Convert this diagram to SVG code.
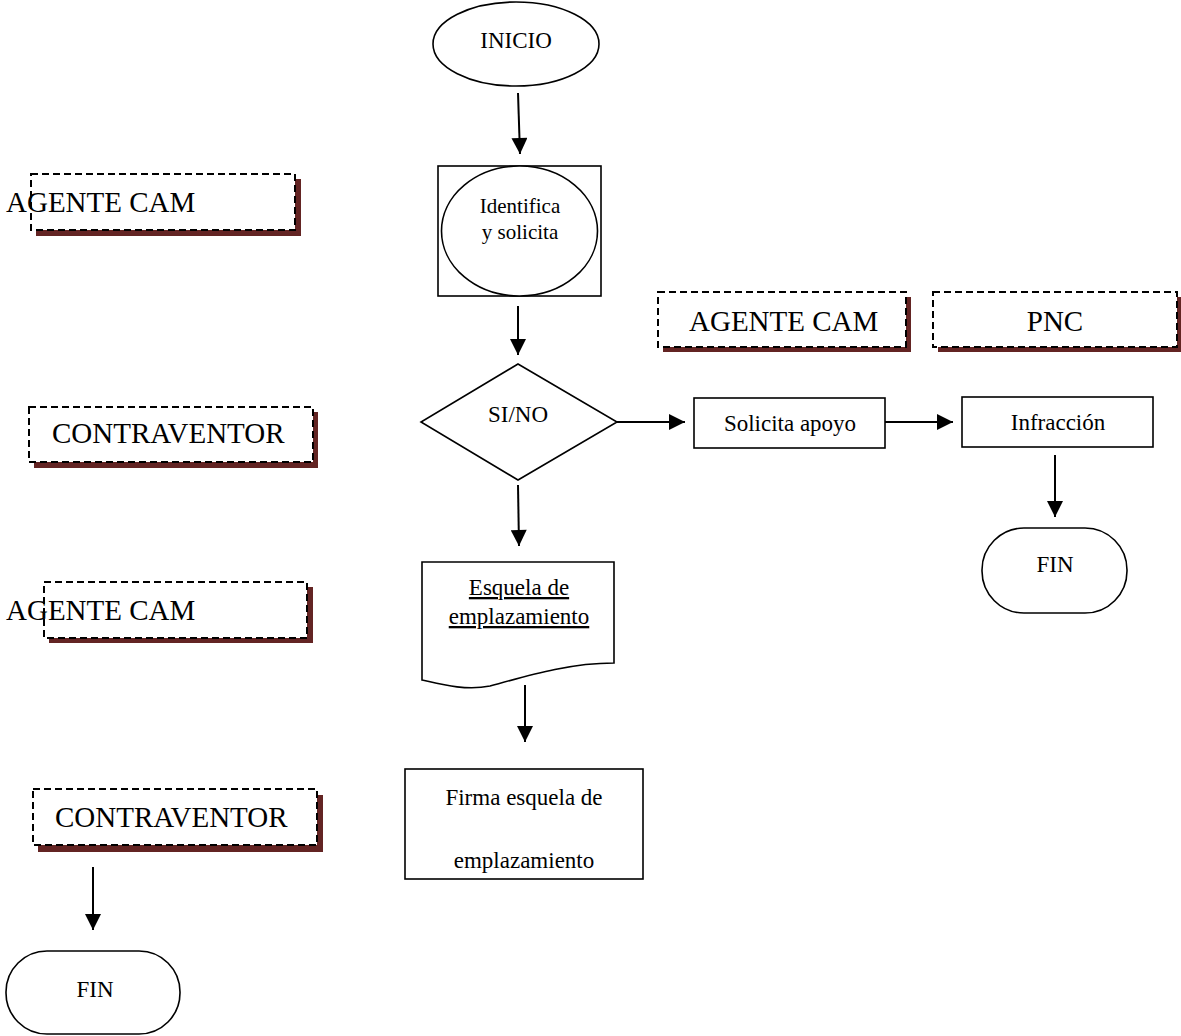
<svg xmlns="http://www.w3.org/2000/svg" width="1181" height="1036" viewBox="0 0 1181 1036">
<style>
  .shape{fill:#fff;stroke:#000;stroke-width:1.6}
  .lane{fill:#fff;stroke:#000;stroke-width:2;stroke-dasharray:7 4}
  .shadow{fill:#632423;stroke:none}
  .t{font-family:"Liberation Serif","Times New Roman",serif;fill:#000}
  .big{font-size:29px}
  .n{font-size:23px;text-anchor:middle}
  .conn{stroke:#000;stroke-width:2;fill:none;marker-end:url(#ah)}
</style>
<defs>
  <marker id="ah" viewBox="0 0 10 10" refX="10" refY="5" markerWidth="17" markerHeight="16" markerUnits="userSpaceOnUse" orient="auto">
    <path d="M0,0 L10,5 L0,10 Z" fill="#000"/>
  </marker>
</defs>
<rect width="1181" height="1036" fill="#fff"/>

<g id="lane-agente1">
  <rect class="shadow" x="36" y="179" width="265" height="57"/>
  <rect class="lane" x="31" y="174" width="264" height="56"/>
  <text class="t big" x="6" y="212">AGENTE CAM</text>
</g>
<g id="lane-contraventor1">
  <rect class="shadow" x="34" y="412" width="284" height="56"/>
  <rect class="lane" x="29" y="407" width="284" height="55"/>
  <text class="t big" x="52" y="443">CONTRAVENTOR</text>
</g>
<g id="lane-agente2">
  <rect class="shadow" x="49" y="587" width="264" height="56"/>
  <rect class="lane" x="44" y="582" width="263" height="56"/>
  <text class="t big" x="6" y="620">AGENTE CAM</text>
</g>
<g id="lane-contraventor2">
  <rect class="shadow" x="38" y="795" width="285" height="57"/>
  <rect class="lane" x="33" y="789" width="284" height="56"/>
  <text class="t big" x="55" y="827">CONTRAVENTOR</text>
</g>
<g id="lane-agente3">
  <rect class="shadow" x="663" y="297" width="248" height="55"/>
  <rect class="lane" x="658" y="292" width="248" height="55"/>
  <text class="t big" x="689" y="331">AGENTE CAM</text>
</g>
<g id="lane-pnc">
  <rect class="shadow" x="938" y="297" width="244" height="55"/>
  <rect class="lane" x="933" y="292" width="244" height="55"/>
  <text class="t big" x="1055" y="331" text-anchor="middle">PNC</text>
</g>

<g id="inicio">
  <ellipse class="shape" cx="516" cy="44" rx="83" ry="42"/>
  <text class="t n" x="516" y="48">INICIO</text>
</g>
<g id="identifica">
  <rect class="shape" x="438" y="166" width="163" height="130"/>
  <ellipse class="shape" cx="519.5" cy="231" rx="78" ry="65"/>
  <text class="t" x="520" y="213" font-size="21" text-anchor="middle">Identifica</text>
  <text class="t" x="520" y="239" font-size="21" text-anchor="middle">y solicita</text>
</g>
<g id="decision">
  <polygon class="shape" points="518,364 617,422 518,480 421,422"/>
  <text class="t n" x="518" y="422">SI/NO</text>
</g>
<g id="solicita">
  <rect class="shape" x="694" y="398" width="191" height="50"/>
  <text class="t n" x="790" y="431">Solicita apoyo</text>
</g>
<g id="infraccion">
  <rect class="shape" x="962" y="397" width="191" height="50"/>
  <text class="t n" x="1058" y="430">Infracción</text>
</g>
<g id="fin-right">
  <rect class="shape" x="982" y="528" width="145" height="85" rx="42" ry="42"/>
  <text class="t n" x="1055" y="572">FIN</text>
</g>
<g id="esquela">
  <path class="shape" d="M422,562 L614,562 L614,663 C570,663 530,675 490,686 C465,691 440,684 422,680 Z"/>
  <text class="t n" x="519" y="595" font-size="24" text-decoration="underline">Esquela de</text>
  <text class="t n" x="519" y="624" font-size="24" text-decoration="underline">emplazamiento</text>
</g>
<g id="firma">
  <rect class="shape" x="405" y="769" width="238" height="110"/>
  <text class="t n" x="524" y="805">Firma esquela de</text>
  <text class="t n" x="524" y="868">emplazamiento</text>
</g>
<g id="fin-left">
  <rect class="shape" x="6" y="951" width="174" height="83" rx="41" ry="41"/>
  <text class="t n" x="95" y="997">FIN</text>
</g>

<g id="connectors">
  <line class="conn" x1="518" y1="93" x2="520" y2="154"/>
  <line class="conn" x1="518" y1="306" x2="518" y2="355"/>
  <line class="conn" x1="617" y1="422" x2="685" y2="422"/>
  <line class="conn" x1="885" y1="422" x2="953" y2="422"/>
  <line class="conn" x1="1055" y1="455" x2="1055" y2="517"/>
  <line class="conn" x1="518" y1="485" x2="519" y2="546"/>
  <line class="conn" x1="525" y1="685" x2="525" y2="742"/>
  <line class="conn" x1="93" y1="867" x2="93" y2="930"/>
</g>
</svg>
